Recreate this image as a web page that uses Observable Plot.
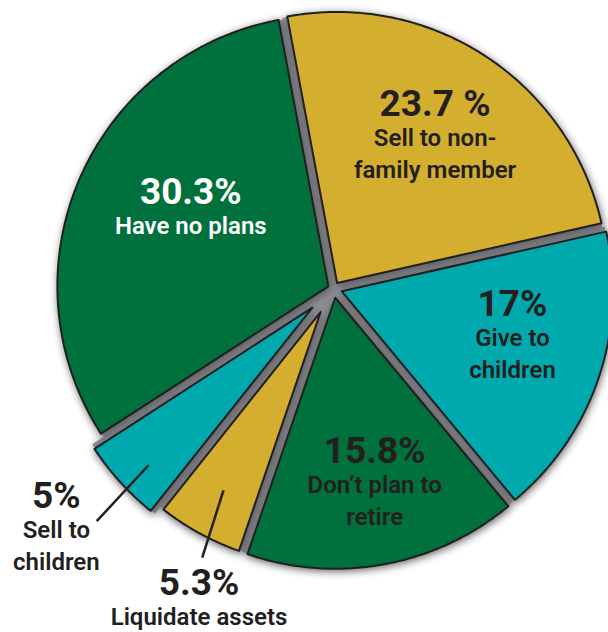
<!DOCTYPE html>
<html><head><meta charset="utf-8">
<script src="https://cdn.jsdelivr.net/npm/d3@7"></script>
<script src="https://cdn.jsdelivr.net/npm/@observablehq/plot@0.6"></script>
<style>body{margin:0;background:#fff}#chart{width:608px;height:632px;overflow:hidden}</style>
</head><body><div id="chart"></div>
<script>
// ---- data ----
const categories = ["Sell to non-family member", "Give to children", "Don't plan to retire", "Liquidate assets", "Sell to children", "Have no plans"];
const values = [23.7, 17, 15.8, 5.3, 5, 30.3];
const valueLabels = ["23.7 %", "17%", "15.8%", "5.3%", "5%", "30.3%"];
const labelLines = [["Sell to non-", "family member"], ["Give to", "children"], ["Don’t plan to", "retire"], ["Liquidate assets"], ["Sell to", "children"], ["Have no plans"]];
const colors = ["#d4ae2f", "#00a9ae", "#00703c", "#d4ae2f", "#00a9ae", "#00703c"];

// ---- layout (not data) ----
const W = 608, H = 632, CX = 333, CY = 288, R = 271;
const startDeg = -10.6;
const halfGap = 4.6 / R;
// explicit outward offset (px) for the small slices; others use a pure translation
const offsetPx = [null, null, null, 8, 17, null];
// label placement: [angle nudge from slice mid (deg), radius factor]
const labelPlace = [[-2.9, 0.74], [-10.2, 0.668], [-2.9, 0.66], [-5, 1.235], [3.8, 1.305], [7.4, 0.612]];
// leader lines for outside labels: slice index -> [[deg, r], [deg, r]]
const leaderPlace = {3: [[208.6, 0.848], [206, 1.105]], 4: [[226.3, 0.944], [225.5, 1.225]]};
const whiteText = new Set([5]);

const rad = v => v * Math.PI / 180;
const polar = (a, r) => ({x: r * Math.sin(a), y: r * Math.cos(a)});

const arcs = d3.pie().sort(null).value(v => v)
  .startAngle(rad(startDeg)).endAngle(rad(startDeg) + 2 * Math.PI)(values);

const slices = [], grays = [], pcts = [], lines0 = [], lines1 = [], leaders = [];
arcs.forEach((a, i) => {
  const cat = categories[i];
  const a0 = a.startAngle, a1 = a.endAngle, m = (a0 + a1) / 2, h = (a1 - a0) / 2;
  const tipD = halfGap / Math.sin(h);
  const off = offsetPx[i] == null ? tipD : offsetPx[i] / R;
  const c = polar(m, off), tip = polar(m, tipD);
  const s = Math.asin(halfGap - off * Math.sin(h));
  const t0 = a0 + s, t1 = a1 - s;
  const n = Math.max(10, Math.round((t1 - t0) * 90));
  slices.push({cat, x: tip.x, y: tip.y});
  const arcPts = [];
  for (let k = 0; k <= n; ++k) {
    const t = t0 + (t1 - t0) * k / n;
    const p = polar(t, 1);
    arcPts.push({cat, x: c.x + p.x, y: c.y + p.y});
  }
  slices.push(...arcPts, {cat, x: tip.x, y: tip.y});
  // gray underlay wedge, reaching the slice's outer corners
  const pa = arcPts[0], pb = arcPts[arcPts.length - 1];
  const rg = Math.min(Math.hypot(pa.x, pa.y), Math.hypot(pb.x, pb.y)) - 1 / R;
  grays.push({cat, x: 0, y: 0});
  for (let k = 0; k <= n; ++k) {
    const g = polar(a0 + (a1 - a0) * k / n, rg);
    grays.push({cat, x: g.x, y: g.y});
  }
  grays.push({cat, x: 0, y: 0});

  const [nudge, rf] = labelPlace[i];
  const lp = polar(m + rad(nudge), rf);
  const fill = whiteText.has(i) ? "white" : "#231f20";
  pcts.push({x: lp.x, y: lp.y, text: valueLabels[i], fill});
  labelLines[i].forEach((t, j) => (j === 0 ? lines0 : lines1).push({x: lp.x, y: lp.y, text: t, fill}));
  if (leaderPlace[i]) {
    const [p1, p2] = leaderPlace[i].map(([deg, r]) => polar(rad(deg), r));
    leaders.push({x1: p1.x, y1: p1.y, x2: p2.x, y2: p2.y});
  }
});

const pctFont = {fontFamily: "Roboto, 'Open Sans', sans-serif", fontSize: 37, fontWeight: "bold"};
const lblFont = {fontFamily: "Roboto, 'Open Sans', sans-serif", fontSize: 24, fontWeight: 600};

const chart = Plot.plot({
  width: W, height: H, margin: 0,
  x: {domain: [-CX / R, (W - CX) / R], axis: null},
  y: {domain: [-(H - CY) / R, CY / R], axis: null},
  color: {domain: categories, range: colors},
  marks: [
    Plot.line(grays, {x: "x", y: "y", z: "cat", fill: "#8d8e94", stroke: "#8d8e94", strokeWidth: 1}),
    Plot.line(slices, {x: "x", y: "y", z: "cat", fill: "cat", stroke: "#231f20", strokeWidth: 2, strokeLinejoin: "round"}),
    Plot.link(leaders, {x1: "x1", y1: "y1", x2: "x2", y2: "y2", stroke: "#231f20", strokeWidth: 2.5}),
    Plot.text(pcts, {x: "x", y: "y", text: "text", fill: d => d.fill, lineAnchor: "bottom", ...pctFont}),
    Plot.text(lines0, {x: "x", y: "y", text: "text", fill: d => d.fill, lineAnchor: "bottom", dy: 30, ...lblFont}),
    Plot.text(lines1, {x: "x", y: "y", text: "text", fill: d => d.fill, lineAnchor: "bottom", dy: 62, ...lblFont})
  ]
});
const lineGroups = chart.querySelectorAll('g[aria-label="line"]');
if (lineGroups[0]) lineGroups[0].style.filter = "drop-shadow(1px 2px 4px rgba(0,0,0,0.4))";
if (lineGroups[1]) lineGroups[1].style.filter = "drop-shadow(1px 2px 4px rgba(0,0,0,0.4))";
document.getElementById("chart").append(chart);
</script>
</body></html>
